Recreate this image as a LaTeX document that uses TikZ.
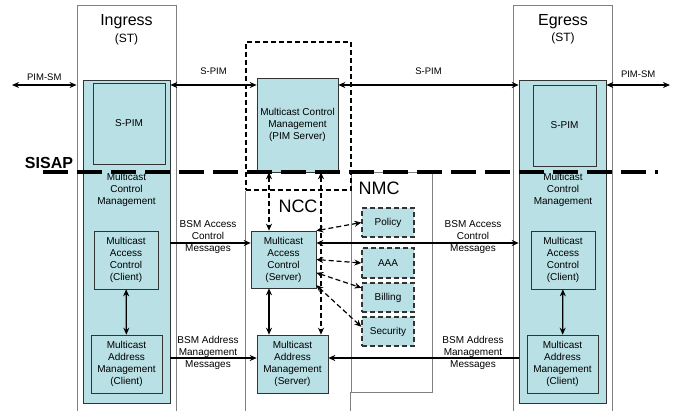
\documentclass[tikz,border=0pt]{standalone}
\usepackage{fontspec}
\setmainfont{Liberation Sans}
\usetikzlibrary{arrows.meta}
\definecolor{mcfill}{RGB}{185,224,228}
\definecolor{framegray}{RGB}{128,128,128}

\begin{document}
\begin{tikzpicture}[x=1pt, y=-1pt, >={Stealth[length=7pt,width=6pt]},
  box/.style={draw=black!80, fill=mcfill, semithick, align=center, inner sep=0pt, font=\fontsize{10}{12}\selectfont},
  dbox/.style={box, line width=1.2pt, dash pattern=on 5pt off 3pt},
  frame/.style={draw=framegray, line width=0.9pt},
  txt/.style={align=center, inner sep=0pt, font=\fontsize{10}{12}\selectfont},
  small/.style={inner sep=0pt, font=\fontsize{9.5}{11}\selectfont},
  link/.style={line width=1.2pt},
  dlink/.style={line width=1.2pt, dash pattern=on 5pt off 3pt}]
 \useasboundingbox (0,0) rectangle (679,410);
 \clip (0,0) rectangle (679,410);

	% Cadres
 \node[frame, minimum width=99pt, minimum height=410pt] (ingFrame) at (126.5,210) {};
 \node[frame, minimum width=99pt, minimum height=410pt] (egFrame) at (562.5,210) {};
 \node[frame, minimum width=81pt, minimum height=220pt] (nmcFrame) at (391.5,282) {};
 \node[draw, line width=1.2pt, dash pattern=on 5pt off 3pt, minimum width=105pt, minimum height=148pt] (pimFrame) at (298.5,116) {};
 \draw[frame] (pimFrame.south west) -- ++(0,225);
 \draw[frame] (nmcFrame.south west) -- ++(0,20);

 \node[font=\fontsize{16}{19}\selectfont] (ingName) at (126.5,22) {Ingress};
 \node[font=\fontsize{12}{14}\selectfont] (ingSt) at (126.5,39) {(ST)};
 \node[font=\fontsize{16}{19}\selectfont] (egName) at (563,22) {Egress};
 \node[font=\fontsize{12}{14}\selectfont] (egSt) at (563,38) {(ST)};
 \node[font=\fontsize{18}{21}\selectfont] (nccName) at (298,206) {NCC};
 \node[font=\fontsize{18}{21}\selectfont] (nmcName) at (379,188) {NMC};

	% Ingress
 \node[box, minimum width=87pt, minimum height=323pt] (ingTeal) at (126.5,241.5) {};
 \node[box, minimum width=72pt, minimum height=81pt] (ingSpim) at (129,123.5) {S-PIM};
 \node[txt] (ingMcm) at (126.5,190) {Multicast\\Control\\Management};
 \node[box, minimum width=64pt, minimum height=58pt] (ingMac) at (126,260) {Multicast\\Access\\Control\\(Client)};
 \node[box, minimum width=71pt, minimum height=58pt] (ingMam) at (126.5,364) {Multicast\\Address\\Management\\(Client)};

	% Egress
 \node[box, minimum width=87pt, minimum height=323pt] (egTeal) at (562.5,241.5) {};
 \node[box, minimum width=63pt, minimum height=81pt] (egSpim) at (564.5,125.5) {S-PIM};
 \node[txt] (egMcm) at (563,190) {Multicast\\Control\\Management};
 \node[box, minimum width=64pt, minimum height=58pt] (egMac) at (563,260) {Multicast\\Access\\Control\\(Client)};
 \node[box, minimum width=71pt, minimum height=58pt] (egMam) at (562.5,364) {Multicast\\Address\\Management\\(Client)};

	% NCC
 \node[box, minimum width=81pt, minimum height=94pt] (pimSrv) at (297.5,125) {Multicast Control\\Management\\(PIM Server)};
 \node[box, minimum width=65pt, minimum height=57pt] (srvMac) at (283.5,259.5) {Multicast\\Access\\Control\\(Server)};
 \node[box, minimum width=71pt, minimum height=58pt] (srvMam) at (292.5,364) {Multicast\\Address\\Management\\(Server)};

	% NMC
 \node[dbox, minimum width=52pt, minimum height=29pt] (policy) at (388,222.5) {Policy};
 \node[dbox, minimum width=52pt, minimum height=30pt] (aaa) at (388,263) {AAA};
 \node[dbox, minimum width=52pt, minimum height=29pt] (billing) at (388,297.5) {Billing};
 \node[dbox, minimum width=52pt, minimum height=29pt] (security) at (388,331.5) {Security};

	% SISAP
 \coordinate (sisapL) at (43,172);
 \coordinate (sisapR) at (658,172);
 \draw[line width=3.5pt, dash pattern=on 25pt off 9pt] (sisapL) -- (sisapR);
 \node[font=\bfseries\fontsize{16}{19}\selectfont] (sisapName) at (49,163) {SISAP};

	% Liaisons PIM
 \coordinate (pimL) at (12,85);
 \coordinate (pimR) at (670,85);
 \draw[link,<->] (pimL) -- (pimL -| ingFrame.west) node[small, midway, above=4pt]{PIM-SM};
 \draw[link,<->] (ingTeal.east |- pimL) -- (pimSrv.west |- pimL) node[small, midway, above=10pt]{S-PIM};
 \draw[link,<->] (pimSrv.east |- pimL) -- (egTeal.west |- pimL) node[small, midway, above=10pt]{S-PIM};
 \draw[link,<->] (egTeal.east |- pimR) -- (pimR) node[small, midway, above=7pt]{PIM-SM};

	% Messages BSM
 \coordinate (bsmA) at (0,243);
 \coordinate (bsmB) at (0,358);
 \draw[link,->] (ingTeal.east |- bsmA) -- (srvMac.west |- bsmA);
 \draw[link,<->] (srvMac.east |- bsmA) -- (egTeal.west |- bsmA);
 \draw[link,->] (ingTeal.east |- bsmB) -- (srvMam.west |- bsmB);
 \draw[link,->] (egTeal.west |- bsmB) -- (srvMam.east |- bsmB);
 \node[txt] (bsmAL) at (208,237) {BSM Access\\Control\\Messages};
 \node[txt] (bsmAR) at (473,237) {BSM Access\\Control\\Messages};
 \node[txt] (bsmBL) at (208,353) {BSM Address\\Management\\Messages};
 \node[txt] (bsmBR) at (473,353) {BSM Address\\Management\\Messages};

	% Liaisons internes
 \coordinate (xA) at (269,0);
 \coordinate (xB) at (321,0);
 \draw[link,<->] (ingMac) -- (ingMam);
 \draw[link,<->] (egMac) -- (egMam);
 \draw[link,<->] (srvMac.south -| xA) -- (srvMam.north -| xA);
 \draw[dlink,<->] (pimSrv.south -| xA) -- (srvMac.north -| xA);
 \draw[dlink,<->] (pimSrv.south -| xB) -- (srvMam.north -| xB);

 \draw[dlink,<->] (srvMac.north east) -- (policy.west);
 \draw[dlink,<->] (srvMac.east) -- (aaa.west);
 \draw[dlink,<->] (srvMac.-22) -- (billing.160);
 \draw[dlink,<->] (srvMac.-38) -- (security.170);

\end{tikzpicture}
\end{document}
